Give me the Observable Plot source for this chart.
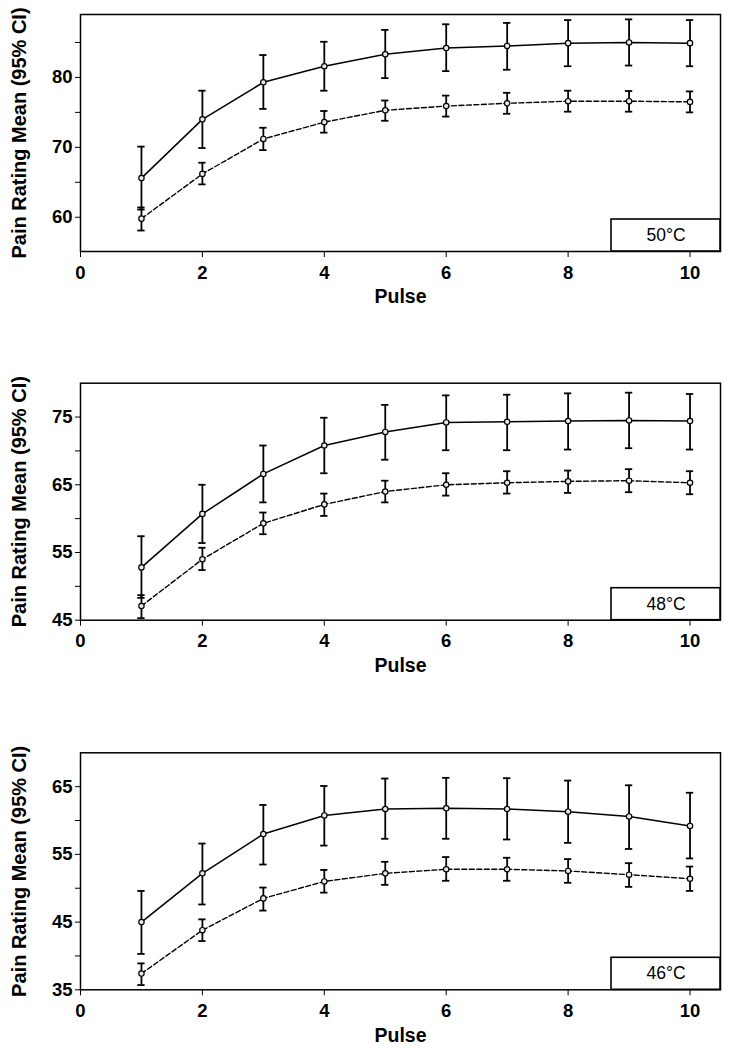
<!DOCTYPE html>
<html><head><meta charset="utf-8">
<script src="https://cdn.jsdelivr.net/npm/d3@7"></script>
<script src="https://cdn.jsdelivr.net/npm/@observablehq/plot@0.6"></script>
<style>
body{margin:0;background:#fff;font-family:"Liberation Sans",Arial,sans-serif}
#chart svg{display:block}
</style>
</head><body><div id="chart"></div>
<script>
const pulses = [1, 2, 3, 4, 5, 6, 7, 8, 9, 10];
const xTicks = [0, 2, 4, 6, 8, 10];
const panelLabels = ["50°C", "48°C", "46°C"];
const yLabel = "Pain Rating Mean (95% CI)";
const xLabel = "Pulse";

// 50°C panel
const solid50Mean = [65.6, 74.0, 79.3, 81.6, 83.3, 84.2, 84.5, 84.9, 85.0, 84.9];
const solid50Hi   = [70.1, 78.1, 83.2, 85.1, 86.8, 87.6, 87.8, 88.2, 88.3, 88.2];
const solid50Lo   = [61.1, 69.9, 75.5, 78.1, 79.9, 80.9, 81.1, 81.6, 81.7, 81.6];
const dash50Mean  = [59.8, 66.2, 71.2, 73.6, 75.3, 75.9, 76.3, 76.6, 76.6, 76.5];
const dash50Hi    = [61.4, 67.8, 72.8, 75.2, 76.7, 77.4, 77.8, 78.1, 78.05, 78.0];
const dash50Lo    = [58.1, 64.7, 69.6, 72.1, 73.8, 74.4, 74.8, 75.1, 75.1, 75.0];

// 48°C panel
const solid48Mean = [52.8, 60.7, 66.6, 70.8, 72.8, 74.2, 74.3, 74.4, 74.5, 74.4];
const solid48Hi   = [57.4, 65.0, 70.8, 74.9, 76.8, 78.2, 78.3, 78.5, 78.6, 78.4];
const solid48Lo   = [48.3, 56.4, 62.4, 66.7, 68.7, 70.1, 70.1, 70.2, 70.4, 70.2];
const dash48Mean  = [47.1, 54.0, 59.3, 62.1, 64.0, 65.0, 65.3, 65.5, 65.6, 65.3];
const dash48Hi    = [48.7, 55.7, 60.9, 63.7, 65.6, 66.7, 67.0, 67.1, 67.3, 67.0];
const dash48Lo    = [45.3, 52.4, 57.7, 60.4, 62.4, 63.4, 63.7, 63.8, 63.9, 63.6];

// 46°C panel
const solid46Mean = [45.0, 52.2, 58.0, 60.75, 61.7, 61.8, 61.7, 61.3, 60.6, 59.2];
const solid46Hi   = [49.6, 56.6, 62.3, 65.1, 66.2, 66.3, 66.25, 65.9, 65.2, 64.1];
const solid46Lo   = [40.3, 47.6, 53.5, 56.3, 57.3, 57.3, 57.2, 56.7, 55.8, 54.4];
const dash46Mean  = [37.4, 43.8, 48.5, 51.0, 52.2, 52.8, 52.8, 52.55, 52.0, 51.4];
const dash46Hi    = [38.9, 45.4, 50.1, 52.7, 53.9, 54.6, 54.5, 54.3, 53.7, 53.2];
const dash46Lo    = [35.7, 42.2, 46.7, 49.35, 50.5, 51.1, 51.1, 50.8, 50.2, 49.6];

const yDomains = [[55.1, 89], [45, 80], [35, 70]];
const yMajor = [[60, 70, 80], [45, 55, 65, 75], [35, 45, 55, 65]];
const yMinor = [[65, 75, 85], [50, 60, 70], [40, 50, 60]];

function rows(mean, hi, lo, group) {
  return pulses.map((p, i) => ({pulse: p, mean: mean[i], hi: hi[i], lo: lo[i], group}));
}
const panels = [
  {solid: rows(solid50Mean, solid50Hi, solid50Lo, "solid"), dashed: rows(dash50Mean, dash50Hi, dash50Lo, "dashed")},
  {solid: rows(solid48Mean, solid48Hi, solid48Lo, "solid"), dashed: rows(dash48Mean, dash48Hi, dash48Lo, "dashed")},
  {solid: rows(solid46Mean, solid46Hi, solid46Lo, "solid"), dashed: rows(dash46Mean, dash46Hi, dash46Lo, "dashed")}
];

const heights = [368, 369, 313];
const tops = [14, 14.7, 15.3];
const frameH = 237;
const cap = 0.06;

const labelBox = (index, scales, values, dims) => {
  const w = 109, h = 32;
  return d3.create("svg:rect")
    .attr("x", dims.width - dims.marginRight - w)
    .attr("y", dims.height - dims.marginBottom - h)
    .attr("width", w).attr("height", h)
    .attr("fill", "white").attr("stroke", "black").attr("stroke-width", 1.6)
    .node();
};

const chart = document.getElementById("chart");
panels.forEach((pd, k) => {
  const all = pd.solid.concat(pd.dashed);
  const H = heights[k];
  const plot = Plot.plot({
    width: 729, height: H,
    marginLeft: 80, marginRight: 9, marginTop: tops[k], marginBottom: H - tops[k] - frameH,
    style: {fontFamily: '"Liberation Sans", Arial, sans-serif', fontSize: "18.5px", fontWeight: "bold", color: "black", background: "white"},
    x: {domain: [0, 10.5]},
    y: {domain: yDomains[k]},
    marks: [
      Plot.axisX({ticks: xTicks, tickSize: 6, tickPadding: 8, label: null, fontSize: 18.5}),
      Plot.axisY({ticks: yMajor[k], tickSize: 5, tickPadding: 3, label: null, fontSize: 18.5}),
      Plot.axisY({ticks: yMinor[k], tickSize: 5, tickFormat: () => "", label: null}),
      Plot.ruleX(all, {x: "pulse", y1: "lo", y2: "hi", stroke: "black", strokeWidth: 1.8}),
      Plot.ruleY(all, {y: "lo", x1: d => d.pulse - cap, x2: d => d.pulse + cap, stroke: "black", strokeWidth: 1.8}),
      Plot.ruleY(all, {y: "hi", x1: d => d.pulse - cap, x2: d => d.pulse + cap, stroke: "black", strokeWidth: 1.8}),
      Plot.line(pd.solid, {x: "pulse", y: "mean", stroke: "black", strokeWidth: 1.5}),
      Plot.line(pd.dashed, {x: "pulse", y: "mean", stroke: "black", strokeWidth: 1.4, strokeDasharray: "5,2.5"}),
      Plot.dot(all, {x: "pulse", y: "mean", r: 2.7, fill: "#e8e8e8", stroke: "black", strokeWidth: 1.2}),
      Plot.frame({stroke: "black", strokeWidth: 1.5}),
      labelBox,
      Plot.text([panelLabels[k]], {frameAnchor: "bottom-right", dx: -54.5, dy: -16, textAnchor: "middle", lineAnchor: "middle", fontSize: 17.5, fontWeight: "normal"}),
      Plot.text([xLabel], {frameAnchor: "bottom", dy: 45.5, lineAnchor: "middle", fontSize: 19.5, fontWeight: "bold"}),
      Plot.text([yLabel], {frameAnchor: "left", dx: -61, rotate: -90, lineAnchor: "middle", textAnchor: "middle", fontSize: 20, fontWeight: "bold"})
    ]
  });
  chart.appendChild(plot);
});
</script>
</body></html>
